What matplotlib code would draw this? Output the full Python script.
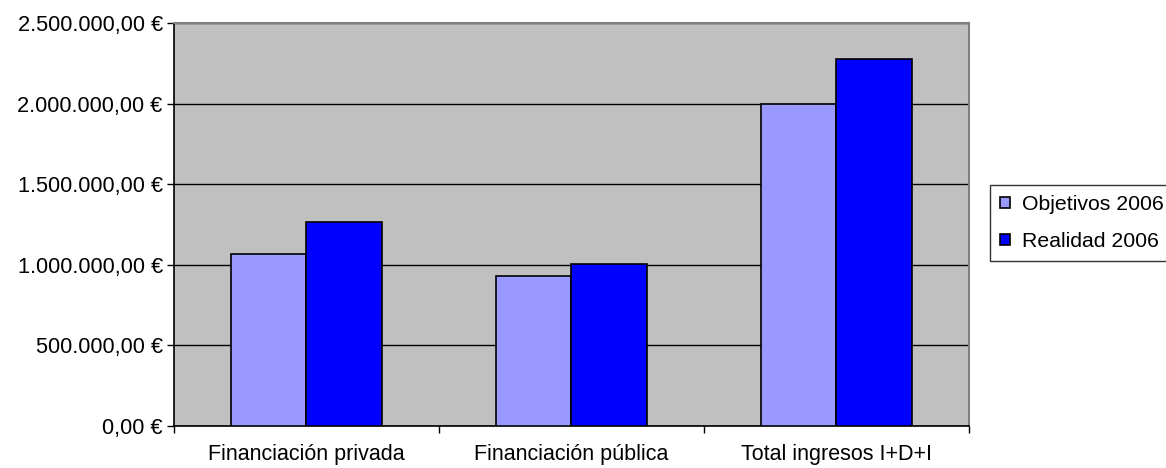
import matplotlib
matplotlib.use("Agg")
import matplotlib.pyplot as plt
import numpy as np
from matplotlib.ticker import FuncFormatter, FixedLocator

plt.rcParams['font.family'] = ['Liberation Sans', 'DejaVu Sans']

# Datos
categorias = ["Financiación privada", "Financiación pública", "Total ingresos I+D+I"]
objetivos = [1068000, 929000, 1997000]
realidad = [1266000, 1004000, 2274000]
series = ["Objetivos 2006", "Realidad 2006"]
colores = ['#9999FF', '#0000FF']


def euros(v, pos):
    s = f"{v:,.2f}"
    s = s.replace(",", "X").replace(".", ",").replace("X", ".")
    return s + " €"


fig = plt.figure(figsize=(11.66, 4.68), dpi=100)
ax = fig.add_axes([0.1492, 0.0897, 0.6818, 0.8611])
ax.set_facecolor('#C0C0C0')

x = np.arange(len(categorias))
w = 1 / 3.5
ax.bar(x - w / 2, objetivos, width=w, color=colores[0], edgecolor='black',
       linewidth=1.2, label=series[0], zorder=3)
ax.bar(x + w / 2, realidad, width=w, color=colores[1], edgecolor='black',
       linewidth=1.2, label=series[1], zorder=3)

ax.set_xlim(-0.5, 2.5)
ax.set_ylim(0, 2500000)
ax.set_yticks(np.arange(0, 2500001, 500000))
ax.yaxis.set_major_formatter(FuncFormatter(euros))
ax.yaxis.grid(True, color='black', linewidth=1.0)
ax.set_axisbelow(True)

# ticks en los limites de categoria, etiquetas en el centro
ax.xaxis.set_major_locator(FixedLocator([-0.5, 0.5, 1.5, 2.5]))
ax.xaxis.set_major_formatter(FuncFormatter(lambda v, p: ""))
ax.xaxis.set_minor_locator(FixedLocator(x))
ax.set_xticklabels(categorias, minor=True)
ax.tick_params(axis='x', which='major', length=5, width=1, color='black')
ax.tick_params(axis='x', which='minor', length=0, pad=13, labelsize=15.5)
ax.tick_params(axis='y', length=5, width=1, pad=3, labelsize=15.7)

for s in ['left', 'bottom']:
    ax.spines[s].set_color('black')
    ax.spines[s].set_linewidth(1.2)
for s in ['top', 'right']:
    ax.spines[s].set_color('#808080')
    ax.spines[s].set_linewidth(1.5)

leg = fig.legend(loc='center left', bbox_to_anchor=(990 / 1166, 1 - 223 / 468),
                 fontsize=15.3, frameon=True, fancybox=False, shadow=False,
                 handlelength=0.47, handleheight=0.47, handletextpad=0.6,
                 labelspacing=0.85, borderpad=0.45, borderaxespad=0)
leg.get_frame().set_edgecolor('black')
leg.get_frame().set_linewidth(1.0)
leg.get_frame().set_facecolor('white')

fig.savefig("out.png", dpi=100)
